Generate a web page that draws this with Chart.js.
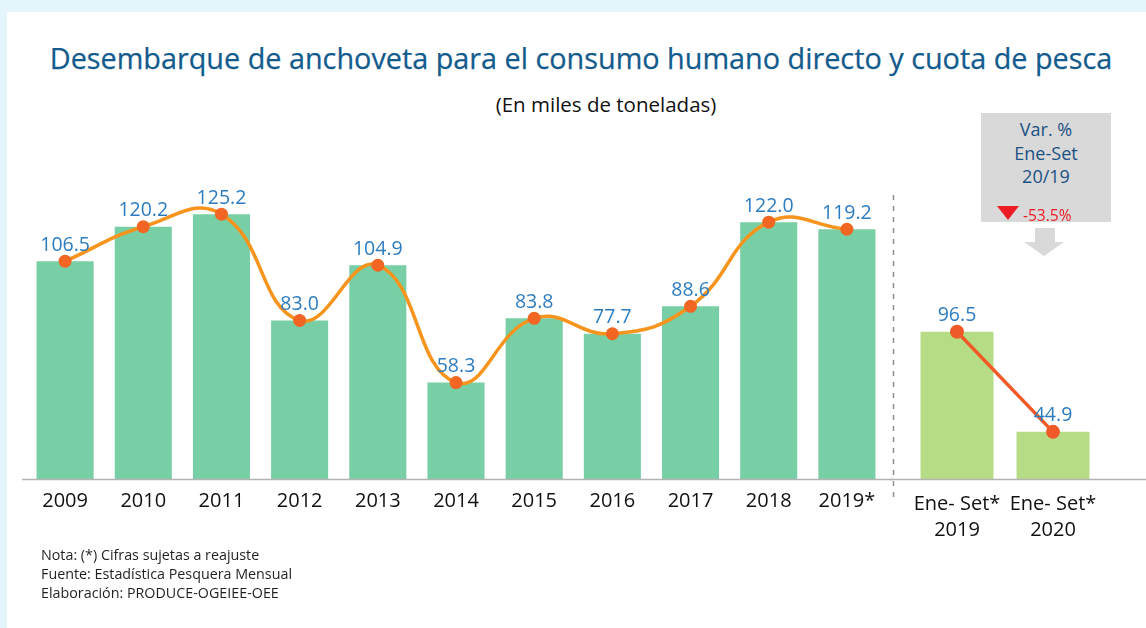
<!DOCTYPE html>
<html>
<head>
<meta charset="utf-8">
<script src="https://cdn.jsdelivr.net/npm/chart.js@4.4.1/dist/chart.umd.min.js"></script>
<style>
  html, body { margin:0; padding:0; }
  body { width:1146px; height:628px; background:#e4f5fc; position:relative; overflow:hidden; font-family:"Open Sans", "Noto Sans", sans-serif; }
  #panel { position:absolute; left:7px; top:12px; right:0; bottom:0; background:#ffffff; }
  #title { position:absolute; left:8px; width:1146px; top:38px; height:40px; line-height:40px; text-align:center; color:#135b8d; font-size:28px; white-space:nowrap; -webkit-text-stroke:0.25px #135b8d; }
  #subtitle { position:absolute; left:406px; width:400px; top:89px; height:30px; line-height:30px; text-align:center; color:#111; font-size:20.5px; white-space:nowrap; }
  #cLeft { position:absolute; left:0; top:160px; }
  #cRight { position:absolute; left:890px; top:160px; }
  #box { position:absolute; left:981px; top:113px; width:130px; height:109px; background:#d9d9d9; }
  .bl { position:absolute; left:0; width:130px; text-align:center; color:#1b5184; font-size:18px; height:24px; line-height:24px; }
  #varTxt { position:absolute; left:1023px; top:204px; height:22px; line-height:22px; color:#ed1c24; font-size:15.5px; }
  #notes { position:absolute; left:41px; top:545px; font-size:14.3px; line-height:19px; color:#231f20; }
  svg { position:absolute; left:0; top:0; }
</style>
</head>
<body>
<div id="panel"></div>
<div id="title">Desembarque de anchoveta para el consumo humano directo y cuota de pesca</div>
<div id="subtitle">(En miles de toneladas)</div>
<canvas id="cLeft" width="893" height="360"></canvas>
<canvas id="cRight" width="256" height="410"></canvas>
<div id="box">
  <div class="bl" style="top:4px">Var. %</div>
  <div class="bl" style="top:28px">Ene-Set</div>
  <div class="bl" style="top:51px">20/19</div>
</div>
<svg width="1146" height="628">
  <polygon points="997,206 1019,206 1008,220" fill="#ed1c24"/>
  <rect x="1035" y="228" width="20" height="14" fill="#d9d9d9"/>
  <polygon points="1024,242 1064,242 1044,256" fill="#d9d9d9"/>
</svg>
<div id="varTxt">-53.5%</div>
<div id="notes">
  <div>Nota: (*) Cifras sujetas a reajuste</div>
  <div>Fuente: Estadística Pesquera Mensual</div>
  <div>Elaboración: PRODUCE-OGEIEE-OEE</div>
</div>
<script>
// ---- Data ----
const years = ['2009','2010','2011','2012','2013','2014','2015','2016','2017','2018','2019*'];
const landings = [106.5, 120.2, 125.2, 83.0, 104.9, 58.3, 83.8, 77.7, 88.6, 122.0, 119.2];
const periods = [['Ene- Set*','2019'], ['Ene- Set*','2020']];
const periodLandings = [96.5, 44.9];

// ---- fit title width ----
(function(){
  const t = document.getElementById('title');
  const ctx = document.createElement('canvas').getContext('2d');
  ctx.font = '100px "Open Sans"';
  const w = ctx.measureText(t.textContent).width;
  const size = 100 * 1063 / w;
  t.style.fontSize = size.toFixed(2) + 'px';
})();

const FONT = '"Open Sans", "Noto Sans", sans-serif';

function makePlugins(opts) {
  return [{
    id: 'extras',
    afterDatasetsDraw(chart) {
      const ctx = chart.ctx;
      const area = chart.chartArea;
      ctx.save();
      ctx.strokeStyle = '#b3b3b3';
      ctx.lineWidth = 1.5;
      ctx.beginPath();
      ctx.moveTo(opts.baseFrom, area.bottom + 0.5);
      ctx.lineTo(chart.width, area.bottom + 0.5);
      ctx.stroke();
      if (opts.dashX !== undefined) {
        ctx.strokeStyle = '#8f8f8f';
        ctx.setLineDash([5, 6]);
        ctx.beginPath();
        ctx.moveTo(opts.dashX, 35);
        ctx.lineTo(opts.dashX, 338);
        ctx.stroke();
        ctx.setLineDash([]);
      }
      ctx.restore();
    },
    afterDraw(chart) {
      const ctx = chart.ctx;
      const idx = chart.data.datasets.findIndex(d => d.type === 'bar' || !d.type);
      const meta = chart.getDatasetMeta(idx);
      const vals = chart.data.datasets[idx].data;
      ctx.save();
      ctx.font = '19.5px ' + FONT;
      ctx.fillStyle = '#2e7cc0';
      ctx.textAlign = 'center';
      ctx.textBaseline = 'middle';
      meta.data.forEach((el, i) => {
        ctx.fillText(vals[i].toFixed(1), el.x, el.y - 16);
      });
      ctx.restore();
    }
  }];
}

new Chart(document.getElementById('cLeft'), {
  type: 'bar',
  data: {
    labels: years,
    datasets: [
      {
        type: 'line', data: landings, order: 0,
        borderColor: '#f7941d', borderWidth: 3.5, tension: 0.45,
        pointRadius: 6.5, pointHoverRadius: 6.5, pointBackgroundColor: '#f26522', pointBorderWidth: 0,
        fill: false, clip: false
      },
      {
        type: 'bar', data: landings, order: 1,
        backgroundColor: '#78cfa5',
        categoryPercentage: 1, barPercentage: 0.73
      }
    ]
  },
  options: {
    responsive: false, animation: false,
    layout: { padding: { left: 26, right: 7, top: 0, bottom: 0 }, autoPadding: false },
    plugins: { legend: { display: false }, tooltip: { enabled: false } },
    scales: {
      x: {
        grid: { display: false, drawTicks: false }, border: { display: false },
        ticks: { color: '#111', font: { family: FONT, size: 20 }, padding: 10, maxRotation: 0, autoSkip: false },
        afterFit(s) { s.height = 41; }
      },
      y: { display: false, min: 20, max: 146.7 }
    }
  },
  plugins: makePlugins({ baseFrom: 22 })
});

new Chart(document.getElementById('cRight'), {
  type: 'bar',
  data: {
    labels: periods,
    datasets: [
      {
        type: 'line', data: periodLandings, order: 0,
        borderColor: '#f05a28', borderWidth: 3.5, tension: 0,
        pointRadius: 7, pointHoverRadius: 7, pointBackgroundColor: '#f05a28', pointBorderWidth: 0,
        fill: false, clip: false
      },
      {
        type: 'bar', data: periodLandings, order: 1,
        backgroundColor: '#b6dc85',
        categoryPercentage: 1, barPercentage: 0.76
      }
    ]
  },
  options: {
    responsive: false, animation: false,
    layout: { padding: { left: 19, right: 45, top: 0, bottom: 0 }, autoPadding: false },
    plugins: { legend: { display: false }, tooltip: { enabled: false } },
    scales: {
      x: {
        grid: { display: false, drawTicks: false }, border: { display: false },
        ticks: { color: '#111', font: { family: FONT, size: 20, lineHeight: 1.3 }, padding: 12, maxRotation: 0, autoSkip: false },
        afterFit(s) { s.height = 91; }
      },
      y: { display: false, min: 20.6, max: 185 }
    }
  },
  plugins: makePlugins({ baseFrom: 0, dashX: 3.5 })
});
</script>
</body>
</html>
